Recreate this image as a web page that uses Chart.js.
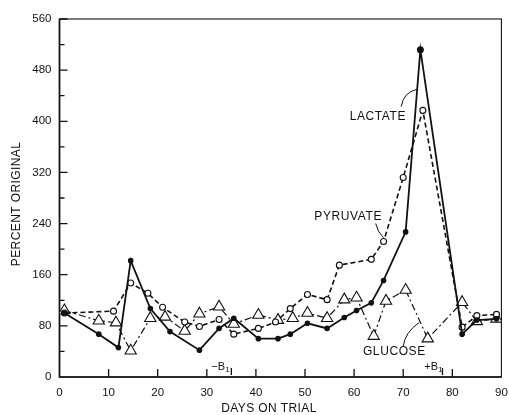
<!DOCTYPE html>
<html>
<head>
<meta charset="utf-8">
<script src="https://cdn.jsdelivr.net/npm/chart.js@4.4.1/dist/chart.umd.min.js"></script>
<style>
html, body { margin: 0; padding: 0; background: #fff; }
#wrap { width: 509px; height: 415px; position: relative; }
</style>
</head>
<body>
<div id="wrap"><canvas id="chart"></canvas></div>
<script>
// values (percent of original)
const lactateDays = [1, 8, 12, 14.5, 18.5, 22.5, 28.5, 32.5, 35.5, 40.5, 44.5, 47, 50.5, 54.5, 58, 60.5, 63.5, 66, 70.5, 73.5, 82, 85, 89];
const lactateValues = [100, 67, 46, 182, 107, 71, 42, 76, 92, 60, 60, 67, 84, 76, 93, 104, 116, 151, 227, 512, 67, 89, 91];
const pyruvateDays = [1, 11, 14.5, 18, 21, 25.5, 28.5, 32.5, 35.5, 40.5, 44, 47, 50.5, 54.5, 57, 63.5, 66, 70, 74, 82, 85, 89];
const pyruvateValues = [100, 103, 147, 131, 109, 86, 79, 90, 67, 76, 86, 107, 129, 121, 175, 184, 212, 312, 417, 78, 96, 98];
const glucoseDays = [1, 8, 11.5, 14.5, 18.5, 21.5, 25.5, 28.5, 32.5, 35.5, 40.5, 44.5, 47.5, 50.5, 54.5, 58, 60.5, 64, 66.5, 70.5, 75, 82, 85, 89];
const glucoseValues = [104, 88, 85, 41, 92, 94, 72, 99, 110, 83, 97, 89, 92, 100, 92, 121, 124, 64, 119, 136, 60, 117, 87, 91];

const xTicks = [0, 10, 20, 30, 40, 50, 60, 70, 80, 90];
const yTicks = [0, 80, 160, 240, 320, 400, 480, 560];
const yMinorTicks = [40, 120, 200, 280, 360, 440, 520];
const b1Marks = [35, 78];   // extra ticks for the -B1 / +B1 periods

const FONT = "'Liberation Sans', Arial, sans-serif";

function pts(xs, ys) {
    return xs.map((x, i) => ({ x: x, y: ys[i] }));
}

// frame and inward ticks
const framePlugin = {
    id: 'frame',
    beforeDatasetsDraw(chart) {
        const ctx = chart.ctx, a = chart.chartArea;
        const xs = chart.scales.x, ys = chart.scales.y;
        ctx.save();
        ctx.strokeStyle = '#111';
        ctx.lineWidth = 1.1;
        ctx.strokeRect(a.left, a.top, a.right - a.left, a.bottom - a.top);
        ctx.lineWidth = 1.7;
        ctx.beginPath();
        ctx.moveTo(a.left, a.top);
        ctx.lineTo(a.left, a.bottom);
        ctx.lineTo(a.right, a.bottom);
        ctx.stroke();

        ctx.lineWidth = 1.3;
        ctx.beginPath();
        yTicks.forEach(v => {
            if (v === 0) return;
            const y = ys.getPixelForValue(v);
            ctx.moveTo(a.left, y); ctx.lineTo(a.left + 8, y);
        });
        yMinorTicks.forEach(v => {
            const y = ys.getPixelForValue(v);
            ctx.moveTo(a.left, y); ctx.lineTo(a.left + 5, y);
        });
        xTicks.forEach(v => {
            if (v === 0 || v === 90) return;
            const x = xs.getPixelForValue(v);
            ctx.moveTo(x, a.bottom); ctx.lineTo(x, a.bottom - 8);
        });
        b1Marks.forEach(v => {
            const x = xs.getPixelForValue(v);
            ctx.moveTo(x, a.bottom - 2); ctx.lineTo(x, a.bottom - 9);
        });
        ctx.stroke();
        ctx.restore();
    }
};

function subLabel(ctx, txt, x, y) {
    ctx.font = '11px ' + FONT;
    ctx.fillText(txt, x, y);
    const w = ctx.measureText(txt).width;
    ctx.font = '8px ' + FONT;
    ctx.fillText('1', x + w + 0.3, y + 3);
}

// labels, leaders and axis titles
const notePlugin = {
    id: 'notes',
    afterDatasetsDraw(chart) {
        const ctx = chart.ctx, a = chart.chartArea;
        const xs = chart.scales.x, ys = chart.scales.y;
        const px = v => xs.getPixelForValue(v);
        const py = v => ys.getPixelForValue(v);
        ctx.save();
        ctx.fillStyle = '#111';
        ctx.strokeStyle = '#111';
        ctx.lineWidth = 1;
        ctx.font = '12px ' + FONT;
        ctx.textBaseline = 'middle';
        ctx.textAlign = 'left';
        ctx.letterSpacing = '0.6px';

        // LACTATE
        ctx.fillText('LACTATE', px(59.1), py(407));
        ctx.beginPath();
        ctx.moveTo(px(69.6), py(423));
        ctx.quadraticCurveTo(px(70), py(445), px(72.8), py(450));
        ctx.stroke();

        // PYRUVATE
        ctx.fillText('PYRUVATE', px(51.9), py(251));
        ctx.beginPath();
        ctx.moveTo(px(64.4), py(240));
        ctx.quadraticCurveTo(px(64.8), py(226), px(66), py(218));
        ctx.stroke();

        // GLUCOSE
        ctx.fillText('GLUCOSE', px(61.8), py(40));
        ctx.beginPath();
        ctx.moveTo(px(70), py(48));
        ctx.quadraticCurveTo(px(70.4), py(70), px(73.2), py(85));
        ctx.stroke();

        // -B1 and +B1
        ctx.letterSpacing = '0px';
        const by = a.bottom - 10;
        subLabel(ctx, '\u2212B', px(30.9), by);
        subLabel(ctx, '+B', px(74.3), by);

        // axis titles
        ctx.font = '12px ' + FONT;
        ctx.letterSpacing = '0.4px';
        ctx.textAlign = 'center';
        ctx.fillText('DAYS ON TRIAL', 269, 409);
        ctx.translate(17, 204);
        ctx.rotate(-Math.PI / 2);
        ctx.fillText('PERCENT ORIGINAL', 0, 0);
        ctx.restore();
    }
};

new Chart(document.getElementById('chart'), {
    type: 'line',
    data: {
        datasets: [{
            label: 'Lactate',
            data: pts(lactateDays, lactateValues),
            borderColor: '#111',
            borderWidth: 1.8,
            backgroundColor: '#111',
            pointStyle: 'circle',
            pointRadius: lactateValues.map(v => v > 500 ? 3.5 : 2.8),
            pointBorderWidth: 0,
            pointBackgroundColor: '#111',
            tension: 0
        }, {
            label: 'Pyruvate',
            data: pts(pyruvateDays, pyruvateValues),
            borderColor: '#111',
            borderWidth: 1.6,
            borderDash: [5, 3],
            pointStyle: 'circle',
            pointRadius: 3,
            pointBorderWidth: 1.1,
            pointBorderColor: '#111',
            pointBackgroundColor: '#fff',
            tension: 0
        }, {
            label: 'Glucose',
            data: pts(glucoseDays, glucoseValues),
            borderColor: '#111',
            borderWidth: 1.2,
            borderDash: [7, 3, 2, 3],
            pointStyle: 'triangle',
            pointRadius: 6.5,
            pointBorderWidth: 1.1,
            pointBorderColor: '#111',
            pointBackgroundColor: '#fff',
            tension: 0
        }]
    },
    options: {
        responsive: true,
        maintainAspectRatio: false,
        animation: false,
        events: [],
        layout: { padding: { top: 19, right: 4, bottom: 0, left: 0 } },
        plugins: {
            legend: { display: false },
            tooltip: { enabled: false }
        },
        scales: {
            x: {
                type: 'linear',
                min: 0,
                max: 90,
                grid: { display: false, drawTicks: false },
                border: { display: false },
                afterBuildTicks: s => { s.ticks = xTicks.map(v => ({ value: v })); },
                afterFit: s => { s.height = 38; s.paddingLeft = 0; s.paddingRight = 0; },
                ticks: {
                    color: '#111',
                    font: { family: FONT, size: 11.5 },
                    padding: 9,
                    maxRotation: 0,
                    autoSkip: false
                }
            },
            y: {
                min: 0,
                max: 560,
                grid: { display: false, drawTicks: false },
                border: { display: false },
                afterBuildTicks: s => { s.ticks = yTicks.map(v => ({ value: v })); },
                afterFit: s => { s.width = 59.5; },
                ticks: {
                    color: '#111',
                    font: { family: FONT, size: 11.5 },
                    padding: 8
                }
            }
        }
    },
    plugins: [framePlugin, notePlugin]
});
</script>
</body>
</html>
